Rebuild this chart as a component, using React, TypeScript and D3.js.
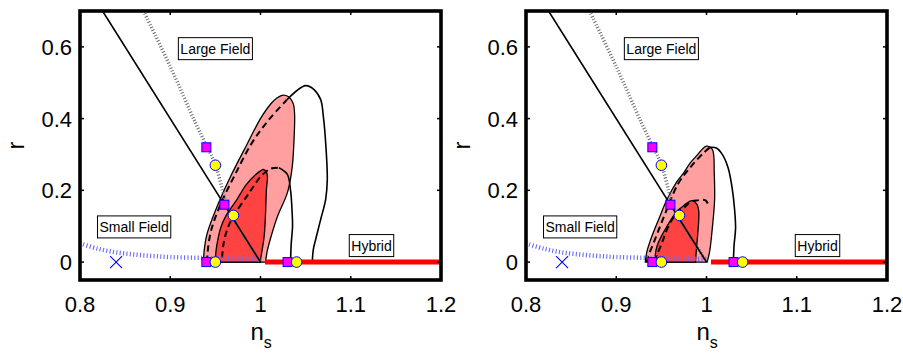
import React, { useRef, useEffect } from 'react';
import * as d3 from 'd3';

type Pt = [number, number];

const nsTicks = [0.8, 0.9, 1, 1.1, 1.2];
const rTicks = [0, 0.2, 0.4, 0.6];

// theory lines, shared by both panels
const boundaryLine: Pt[] = [[0.825, 0.7], [1.0, 0]];
const largeFieldDots: Pt[] = [
  [0.8704, 0.7], [0.9, 0.545], [0.928, 0.388], [0.94, 0.325], [0.95, 0.272],
  [0.958, 0.2], [0.963, 0.155], [0.97, 0.118], [0.98, 0.078], [0.99, 0.04], [1.0, 0.0],
];
const smallFieldDots: Pt[] = [
  [0.8, 0.052], [0.82, 0.037], [0.84, 0.027], [0.86, 0.021], [0.88, 0.017],
  [0.9, 0.014], [0.93, 0.012], [0.96, 0.01], [1.0, 0.009],
];
const hybridLine: Pt[] = [[1.005, 0], [1.2, 0]];
const squareMarks: Pt[] = [[0.94, 0], [0.94, 0.32], [0.96, 0.16], [1.03, 0]];
const circleMarks: Pt[] = [[0.95, 0], [0.95, 0.27], [0.97, 0.13], [1.04, 0]];
const crossMark: Pt = [0.84, 0];
const labelTexts = ['Large Field', 'Small Field', 'Hybrid'];
const labelNs = [0.95, 0.86, 1.123];
const labelR = [0.595, 0.098, 0.046];

// left panel contours
const leftFill95: Pt[] = [
  [0.937, 0], [0.9375, 0.03], [0.9407, 0.078], [0.9519, 0.155], [0.9667, 0.238],
  [0.985, 0.328], [1.0, 0.4], [1.0111, 0.44], [1.0185, 0.458], [1.024, 0.465],
  [1.031, 0.461], [1.0365, 0.44], [1.0378, 0.41], [1.037, 0.333], [1.035, 0.262],
  [1.03, 0.195], [1.0185, 0.125], [1.011, 0.065], [1.0074, 0.03], [1.0056, 0],
];
const leftFill68: Pt[] = [
  [0.95, 0], [0.9505, 0.026], [0.9525, 0.06], [0.9565, 0.1], [0.962, 0.13],
  [0.974, 0.175], [0.984, 0.215], [0.993, 0.24], [1.0037, 0.258], [1.0074, 0.245],
  [1.0065, 0.2], [1.0055, 0.13], [1.004, 0.07], [1.0, 0.005], [1.0, 0],
];
const leftDash95: Pt[] = [
  [0.941, 0], [0.9415, 0.03], [0.9455, 0.09], [0.9556, 0.16], [0.972, 0.245],
  [0.9907, 0.333], [1.0093, 0.397], [1.029, 0.452],
];
const leftDash68: Pt[] = [
  [0.9574, 0.012], [0.959, 0.05], [0.963, 0.09], [0.97, 0.128], [0.985, 0.184],
  [0.9926, 0.212], [1.0, 0.238], [1.0111, 0.26], [1.0204, 0.263],
];
const leftSolid95: Pt[] = [
  [1.029, 0.452], [1.05, 0.492], [1.0593, 0.481], [1.0667, 0.453], [1.0696, 0.407],
  [1.0722, 0.333], [1.074, 0.23], [1.0722, 0.175], [1.0667, 0.119], [1.0611, 0.063],
  [1.0585, 0.035], [1.0574, 0],
];
const leftSolid68: Pt[] = [
  [1.0204, 0.263], [1.0296, 0.245], [1.0333, 0.2], [1.035, 0.14], [1.0355, 0.1],
  [1.034, 0.05], [1.0333, 0],
];

// right panel contours
const rightFill95: Pt[] = [
  [0.9322, 0], [0.934, 0.03], [0.9378, 0.06], [0.9415, 0.085], [0.947, 0.119],
  [0.9563, 0.175], [0.9674, 0.225], [0.9748, 0.249], [0.9822, 0.277], [0.9896, 0.298],
  [0.9933, 0.309], [1.0, 0.323], [1.0063, 0.315], [1.0081, 0.295], [1.0085, 0.258],
  [1.009, 0.175], [1.0063, 0.091], [1.0035, 0.03], [1.0007, 0],
];
const rightFill68: Pt[] = [
  [0.9425, 0], [0.9452, 0.045], [0.9563, 0.1], [0.9674, 0.142], [0.9711, 0.15],
  [0.9804, 0.168], [0.9845, 0.171], [0.9896, 0.16], [0.9915, 0.14], [0.9907, 0.091],
  [0.989, 0.04], [0.9878, 0],
];
const rightDash95: Pt[] = [
  [0.934, 0], [0.9345, 0.01], [0.9415, 0.054], [0.9526, 0.125], [0.9685, 0.218],
  [0.983, 0.267], [0.997, 0.305], [1.0035, 0.319],
];
const rightDash68: Pt[] = [
  [0.9452, 0], [0.9455, 0.02], [0.9507, 0.054], [0.9563, 0.091], [0.9619, 0.119],
  [0.9674, 0.138], [0.9767, 0.155], [0.9822, 0.168], [0.9896, 0.172], [0.9989, 0.172],
  [1.0026, 0.156],
];
const rightSolid95: Pt[] = [
  [1.004, 0.32], [1.011, 0.318], [1.018, 0.298], [1.024, 0.262], [1.0285, 0.205],
  [1.031, 0.15], [1.0322, 0.095], [1.0305, 0.045], [1.0298, 0],
];

const panels = [
  { fill95: leftFill95, fill68: leftFill68, dash: [leftDash95, leftDash68], solid: [leftSolid95, leftSolid68] },
  { fill95: rightFill95, fill68: rightFill68, dash: [rightDash95, rightDash68], solid: [rightSolid95] },
];

const FONT = '"Liberation Sans", Arial, Helvetica, sans-serif';

const App = () => {
  const svgRef = useRef<SVGSVGElement>(null);

  useEffect(() => {
    const svg = d3.select(svgRef.current);
    svg.selectAll('*').remove();

    const plotW = 361;
    const top = 11;
    const bottom = 280;
    const lefts = [80, 526];

    panels.forEach((p, i) => {
      const x0 = lefts[i];
      const x = d3.scaleLinear().domain([0.8, 1.2]).range([x0, x0 + plotW]);
      const y = d3.scaleLinear().domain([-0.05, 0.7]).range([bottom, top]);
      const line = d3.line<Pt>().x(d => x(d[0])).y(d => y(d[1]));
      const smooth = d3.line<Pt>().x(d => x(d[0])).y(d => y(d[1])).curve(d3.curveCatmullRom.alpha(0.5));

      const clipId = `clip${i}`;
      svg.append('clipPath').attr('id', clipId)
        .append('rect').attr('x', x0).attr('y', top).attr('width', plotW).attr('height', bottom - top);

      const g = svg.append('g').attr('clip-path', `url(#${clipId})`);

      // filled contours
      g.append('path').attr('d', smooth(p.fill95) + 'Z')
        .attr('fill', '#ff9f9f').attr('stroke', '#000').attr('stroke-width', 1.3);
      g.append('path').attr('d', smooth(p.fill68) + 'Z')
        .attr('fill', '#ff4242').attr('stroke', '#000').attr('stroke-width', 1.3);

      p.dash.forEach(c => {
        g.append('path').attr('d', smooth(c)).attr('fill', 'none')
          .attr('stroke', '#000').attr('stroke-width', 2).attr('stroke-dasharray', '6.5 4');
      });
      p.solid.forEach(c => {
        g.append('path').attr('d', smooth(c)).attr('fill', 'none')
          .attr('stroke', '#000').attr('stroke-width', 1.6);
      });

      // theory curves
      g.append('path').attr('d', smooth(largeFieldDots)).attr('fill', 'none')
        .attr('stroke', '#6f6f6f').attr('stroke-width', 3.5).attr('stroke-dasharray', '1 2');
      g.append('path').attr('d', smooth(smallFieldDots)).attr('fill', 'none')
        .attr('stroke', '#6a6aff').attr('stroke-width', 4.5).attr('stroke-dasharray', '1.1 2.3');
      g.append('path').attr('d', line(boundaryLine)).attr('fill', 'none')
        .attr('stroke', '#000').attr('stroke-width', 1.6);
      g.append('path').attr('d', line(hybridLine)).attr('fill', 'none')
        .attr('stroke', '#ff0000').attr('stroke-width', 5);

      // markers
      const cx = x(crossMark[0]);
      const cy = y(crossMark[1]);
      g.append('path').attr('d', `M${cx - 6},${cy - 6}L${cx + 6},${cy + 6}M${cx - 6},${cy + 6}L${cx + 6},${cy - 6}`)
        .attr('stroke', '#0000ff').attr('stroke-width', 1.1);
      g.selectAll('.sq').data(squareMarks).enter().append('rect')
        .attr('x', d => x(d[0]) - 4.5).attr('y', d => y(d[1]) - 4.5)
        .attr('width', 9).attr('height', 9)
        .attr('fill', '#ff00ff').attr('stroke', '#0000ff').attr('stroke-width', 1);
      g.selectAll('.ci').data(circleMarks).enter().append('circle')
        .attr('cx', d => x(d[0])).attr('cy', d => y(d[1])).attr('r', 5.3)
        .attr('fill', '#ffff00').attr('stroke', '#0000ff').attr('stroke-width', 1);

      // region labels
      labelTexts.forEach((t, k) => {
        const lg = g.append('g');
        const txt = lg.append('text')
          .attr('x', x(labelNs[k])).attr('y', y(labelR[k]))
          .attr('dy', '0.36em').attr('text-anchor', 'middle')
          .attr('font-family', FONT).attr('font-size', 14).attr('fill', '#000')
          .text(t);
        const bb = (txt.node() as SVGTextElement).getBBox();
        lg.insert('rect', 'text')
          .attr('x', bb.x - 2).attr('y', y(labelR[k]) - 11)
          .attr('width', bb.width + 4).attr('height', 22)
          .attr('fill', '#fff').attr('stroke', '#000').attr('stroke-width', 1);
      });

      // frame
      svg.append('rect').attr('x', x0).attr('y', top).attr('width', plotW).attr('height', bottom - top)
        .attr('fill', 'none').attr('stroke', '#000').attr('stroke-width', 3.6);

      // ticks on all four sides
      const tk = svg.append('g').attr('stroke', '#000').attr('stroke-width', 1.5);
      nsTicks.slice(1, -1).forEach(v => {
        tk.append('line').attr('x1', x(v)).attr('x2', x(v)).attr('y1', bottom).attr('y2', bottom - 4);
        tk.append('line').attr('x1', x(v)).attr('x2', x(v)).attr('y1', top).attr('y2', top + 4);
      });
      rTicks.forEach(v => {
        tk.append('line').attr('x1', x0).attr('x2', x0 + 4).attr('y1', y(v)).attr('y2', y(v));
        tk.append('line').attr('x1', x0 + plotW).attr('x2', x0 + plotW - 4).attr('y1', y(v)).attr('y2', y(v));
      });

      // tick labels
      svg.append('g').selectAll('text').data(nsTicks).enter().append('text')
        .attr('x', d => x(d)).attr('y', 312).attr('text-anchor', 'middle')
        .attr('font-family', FONT).attr('font-size', 22).attr('fill', '#000')
        .text(d => d3.format('~g')(d));
      svg.append('g').selectAll('text').data(rTicks).enter().append('text')
        .attr('x', x0 - 8).attr('y', d => y(d)).attr('dy', '0.36em').attr('text-anchor', 'end')
        .attr('font-family', FONT).attr('font-size', 22).attr('fill', '#000')
        .text(d => d3.format('~g')(d));

      // axis titles
      const xt = svg.append('text').attr('x', x(1) - 10).attr('y', 340)
        .attr('font-family', FONT).attr('font-size', 24).attr('fill', '#000');
      xt.append('tspan').text('n');
      xt.append('tspan').attr('dy', 8).attr('font-size', 16).text('s');

      svg.append('text')
        .attr('transform', `translate(${x0 - 56},${(top + bottom) / 2}) rotate(-90)`)
        .attr('text-anchor', 'middle')
        .attr('font-family', FONT).attr('font-size', 24).attr('fill', '#000')
        .text('r');
    });
  }, []);

  return (
    <svg ref={svgRef} width={903} height={354}
      style={{ position: 'absolute', left: 0, top: 0, background: '#fff' }} />
  );
};

export default App;
